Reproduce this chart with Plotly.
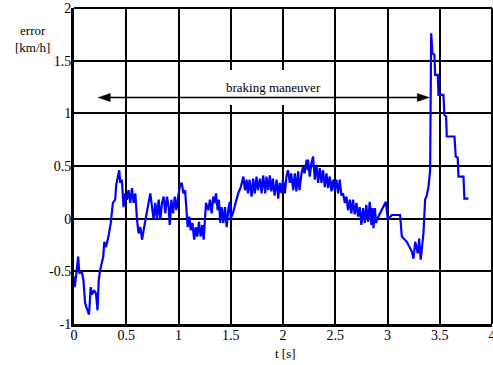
import plotly.graph_objects as go

# ---- data ----
t = [0.000, 0.007, 0.026, 0.040, 0.051, 0.074, 0.090, 0.106, 0.122, 0.144,
     0.160, 0.173, 0.192, 0.210, 0.225, 0.237, 0.250, 0.280, 0.290, 0.306,
     0.330, 0.352, 0.372, 0.394, 0.404, 0.417, 0.433, 0.442, 0.458, 0.474,
     0.490, 0.506, 0.522, 0.538, 0.555, 0.570, 0.587, 0.603, 0.618, 0.635,
     0.651, 0.666, 0.692, 0.714, 0.730, 0.747, 0.762, 0.778, 0.795, 0.810,
     0.827, 0.842, 0.858, 0.874, 0.890, 0.906, 0.916, 0.932, 0.948, 0.964,
     0.980, 0.996, 1.015, 1.031, 1.047, 1.063, 1.079, 1.088, 1.104, 1.117,
     1.133, 1.150, 1.165, 1.180, 1.196, 1.212, 1.228, 1.241, 1.253, 1.263,
     1.285, 1.301, 1.317, 1.333, 1.349, 1.359, 1.375, 1.387, 1.400, 1.413,
     1.429, 1.445, 1.461, 1.476, 1.491, 1.500, 1.520, 1.546, 1.571, 1.596,
     1.621, 1.636, 1.651, 1.665, 1.680, 1.700, 1.715, 1.730, 1.747, 1.760,
     1.780, 1.795, 1.810, 1.830, 1.842, 1.859, 1.874, 1.889, 1.904, 1.919,
     1.939, 1.954, 1.969, 1.986, 1.999, 2.018, 2.033, 2.048, 2.065, 2.078,
     2.098, 2.113, 2.128, 2.145, 2.158, 2.177, 2.192, 2.207, 2.227, 2.237,
     2.240, 2.256, 2.272, 2.288, 2.304, 2.320, 2.336, 2.352, 2.368, 2.383,
     2.400, 2.416, 2.431, 2.447, 2.464, 2.479, 2.495, 2.511, 2.527, 2.543,
     2.559, 2.575, 2.591, 2.607, 2.622, 2.639, 2.654, 2.670, 2.686, 2.703,
     2.718, 2.734, 2.750, 2.766, 2.782, 2.797, 2.814, 2.830, 2.846, 2.856,
     2.866, 2.880, 2.890, 2.903, 2.914, 2.946, 2.984, 3.003, 3.041, 3.121,
     3.137, 3.185, 3.232, 3.249, 3.265, 3.290, 3.303, 3.318, 3.328, 3.344,
     3.360, 3.376, 3.392, 3.408, 3.418, 3.430, 3.449, 3.456, 3.481, 3.488,
     3.535, 3.545, 3.561, 3.567, 3.641, 3.653, 3.672, 3.679, 3.727, 3.736,
     3.774]

err = [-0.55, -0.65, -0.49, -0.36, -0.52, -0.50, -0.58, -0.80, -0.85, -0.91,
       -0.65, -0.72, -0.68, -0.71, -0.87, -0.58, -0.49, -0.36, -0.22, -0.27,
       -0.17, -0.04, 0.15, 0.18, 0.32, 0.40, 0.46, 0.34, 0.37, 0.11,
       0.24, 0.18, 0.27, 0.15, 0.29, 0.15, 0.24, -0.01, -0.14, -0.08,
       -0.20, -0.11, 0.02, 0.15, 0.24, 0.11, -0.01, 0.15, -0.01, 0.18,
       -0.01, 0.15, 0.21, 0.05, 0.21, 0.11, -0.06, 0.18, 0.05, 0.21,
       0.08, 0.21, 0.32, 0.34, 0.24, 0.27, 0.08, -0.08, 0.02, -0.11,
       -0.04, -0.20, -0.08, -0.17, -0.03, -0.17, -0.06, -0.20, -0.01, 0.15,
       0.08, 0.18, 0.05, 0.21, 0.15, 0.24, 0.08, 0.18, -0.04, 0.11,
       -0.04, 0.11, -0.08, 0.08, 0.16, 0.00, 0.05, 0.15, 0.24, 0.30,
       0.40, 0.27, 0.37, 0.24, 0.37, 0.21, 0.38, 0.24, 0.40, 0.27,
       0.38, 0.24, 0.41, 0.24, 0.40, 0.27, 0.41, 0.26, 0.38, 0.22,
       0.37, 0.19, 0.34, 0.24, 0.37, 0.24, 0.40, 0.46, 0.34, 0.43,
       0.27, 0.43, 0.26, 0.45, 0.27, 0.43, 0.49, 0.43, 0.56, 0.46,
       0.56, 0.40, 0.53, 0.59, 0.37, 0.51, 0.34, 0.48, 0.34, 0.46,
       0.30, 0.43, 0.29, 0.40, 0.26, 0.37, 0.27, 0.37, 0.24, 0.37,
       0.22, 0.24, 0.15, 0.21, 0.08, 0.18, 0.05, 0.18, 0.04, 0.15,
       0.02, 0.11, -0.06, 0.10, -0.04, 0.13, -0.03, 0.16, -0.06, 0.10,
       -0.09, 0.10, -0.04, 0.00, 0.02, 0.08, 0.16, -0.01, 0.035, 0.035,
       -0.17, -0.22, -0.31, -0.38, -0.22, -0.33, -0.19, -0.39, -0.27, -0.14,
       0.18, 0.22, 0.30, 0.46, 1.76, 1.57, 1.555, 1.365, 1.365, 1.175,
       1.175, 0.985, 0.97, 0.78, 0.78, 0.59, 0.58, 0.40, 0.40, 0.19,
       0.19]

x_ticks = [0, 0.5, 1, 1.5, 2, 2.5, 3, 3.5, 4]
x_labels = ["0", "0.5", "1", "1.5", "2", "2.5", "3", "3.5", "4"]
y_ticks = [-1, -0.5, 0, 0.5, 1, 1.5, 2]
y_labels = ["-1", "-0.5", "0", "0.5", "1", "1.5", "2"]

arrow_start = 0.232
arrow_end = 3.40
arrow_level = 1.15
label_text = "braking maneuver"

FONT = "Liberation Serif"

W, H = 493, 365
ML, MR, MT, MB = 74, 1, 8, 41
pw, ph = W - ML - MR, H - MT - MB
ux = pw / 4.0   # px per x unit
uy = ph / 3.0   # px per y unit

fig = go.Figure()
fig.add_trace(go.Scatter(x=t, y=err, mode="lines",
                         line=dict(color="#0000FF", width=2.2),
                         showlegend=False, hoverinfo="skip"))

L = 12.0 / ux
hh = 4.0 / uy
shapes = [
    dict(type="rect", xref="x", yref="y", x0=1.453, x1=2.38, y0=1.08, y1=1.412,
         fillcolor="white", line=dict(width=0), layer="above"),
    dict(type="line", xref="x", yref="y", x0=arrow_start + L * 0.5, x1=arrow_end - L * 0.5,
         y0=arrow_level, y1=arrow_level, line=dict(color="black", width=1.6), layer="above"),
    dict(type="path", xref="x", yref="y", layer="above", fillcolor="black",
         line=dict(color="black", width=0.5),
         path=f"M{arrow_start},{arrow_level} L{arrow_start + L},{arrow_level + hh} "
              f"L{arrow_start + L},{arrow_level - hh} Z"),
    dict(type="path", xref="x", yref="y", layer="above", fillcolor="black",
         line=dict(color="black", width=0.5),
         path=f"M{arrow_end},{arrow_level} L{arrow_end - L},{arrow_level + hh} "
              f"L{arrow_end - L},{arrow_level - hh} Z"),
    dict(type="line", xref="paper", yref="paper", x0=0, x1=1, y0=1, y1=1,
         line=dict(color="black", width=2), layer="above"),
    dict(type="line", xref="paper", yref="paper", x0=1, x1=1, y0=0, y1=1,
         line=dict(color="black", width=2), layer="above"),
]

annotations = [
    dict(x=1.912, y=1.241, xref="x", yref="y", text=label_text, showarrow=False,
         font=dict(family=FONT, size=13, color="black"), xanchor="center", yanchor="middle"),
    dict(x=(32 - ML) / pw, y=(MT + ph - 39.5) / ph, xref="paper", yref="paper",
         text="error<br>[km/h]", showarrow=False, align="center",
         font=dict(family=FONT, size=13, color="black"), xanchor="center", yanchor="middle"),
    dict(x=(285.5 - ML) / pw, y=(MT + ph - 353) / ph, xref="paper", yref="paper",
         text="t [s]", showarrow=False,
         font=dict(family=FONT, size=13, color="black"), xanchor="center", yanchor="middle"),
]

axis_common = dict(showgrid=True, gridcolor="black", gridwidth=2, zeroline=False,
                   showline=True, linecolor="black", linewidth=3, ticks="",
                   automargin=False,
                   tickfont=dict(family=FONT, size=14, color="black"))

fig.update_layout(
    width=W, height=H,
    margin=dict(l=ML, r=MR, t=MT, b=MB, pad=0, autoexpand=False),
    paper_bgcolor="white", plot_bgcolor="white",
    font=dict(family=FONT, color="black"),
    xaxis=dict(range=[0, 4], tickvals=x_ticks, ticktext=x_labels,
               ticklabeloverflow="allow", ticklabelstandoff=-4, **axis_common),
    yaxis=dict(range=[-1, 2], tickvals=y_ticks, ticktext=y_labels,
               ticklabelstandoff=-3, **axis_common),
    shapes=shapes, annotations=annotations, showlegend=False,
)

fig.write_html("out.html", config={"displayModeBar": False})
